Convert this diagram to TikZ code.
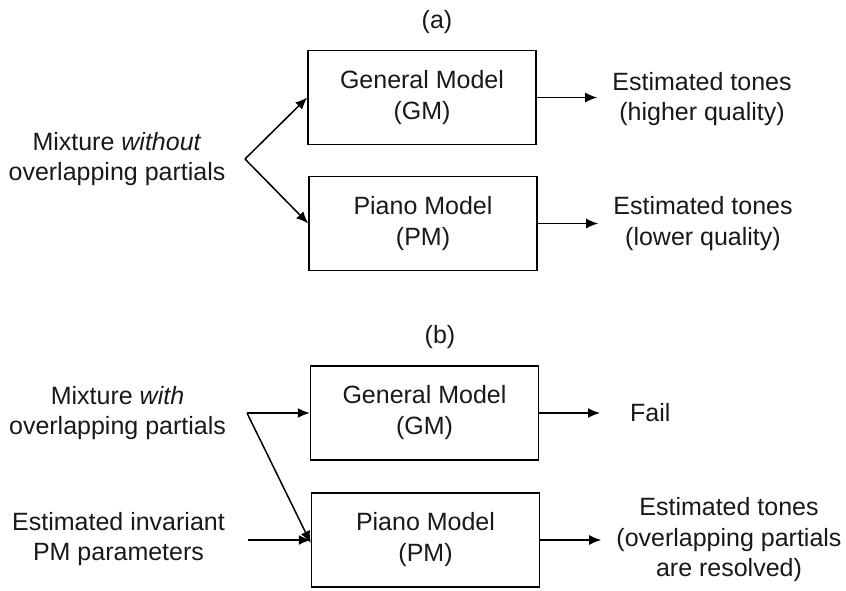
\documentclass[tikz,border=0pt]{standalone}
\usepackage{fontspec}
\setmainfont{Liberation Sans}
\usetikzlibrary{arrows.meta}
\begin{document}
\begin{tikzpicture}[x=1pt,y=-1pt,
  lbl/.style={font=\fontsize{25}{30.5}\selectfont, align=center, inner sep=0pt, text=black!90},
  model/.style={draw, line width=1.5pt, minimum width=228pt, minimum height=94pt,
    inner sep=0pt, align=center, font=\fontsize{25}{31}\selectfont, text=black!90},
  arr/.style={line width=1.5pt, -{Latex[length=12pt,width=10pt]}}]
\useasboundingbox[fill=white] (0,0) rectangle (846,590);

% ---- panel (a) ----
\node[lbl] (tita) at (437,22) {(a)};
\node[model] (gma) at (422,97.5) {General Model\\(GM)};
\node[model] (pma) at (423,223.5) {Piano Model\\(PM)};
\node[lbl] (mixa) at (117,159) {Mixture \textit{without}\\overlapping partials};
\coordinate (ja) at (245,159);
\draw[arr] (ja) -- (gma.west);
\draw[arr] (ja) -- (pma.west);
\node[lbl] (outga) at (702,99) {Estimated tones\\(higher quality)};
\node[lbl] (outpa) at (703,223.5) {Estimated tones\\(lower quality)};
\draw[arr, shorten >=15pt] (gma.east) -- (gma.east -| outga.west);
\draw[arr, shorten >=15pt] (pma.east) -- (pma.east -| outpa.west);

% ---- panel (b) ----
\node[lbl] (titb) at (440,337) {(b)};
\node[model] (gmb) at (424.5,413) {General Model\\(GM)};
\node[model] (pmb) at (425.5,540) {Piano Model\\(PM)};
\node[lbl] (mixb) at (117.5,413) {Mixture \textit{with}\\overlapping partials};
\node[lbl] (estb) at (118.5,539) {Estimated invariant\\PM parameters};
\coordinate (jb) at (247,413);
\coordinate (kb) at (248,540);
\draw[arr] (jb) -- (gmb.west);
\draw[arr] (jb) -- ([yshift=-3pt]pmb.west);
\draw[arr] (kb) -- (kb -| pmb.west);
\node[lbl, anchor=west] (fail) at (630,413) {Fail};
\node[lbl] (outpb) at (729,540) {Estimated tones\\(overlapping partials\\are resolved)};
\draw[arr, shorten >=30pt] (gmb.east) -- (fail.west);
\draw[arr, shorten >=15pt] (pmb.east) -- (pmb.east -| outpb.west);
\end{tikzpicture}
\end{document}
